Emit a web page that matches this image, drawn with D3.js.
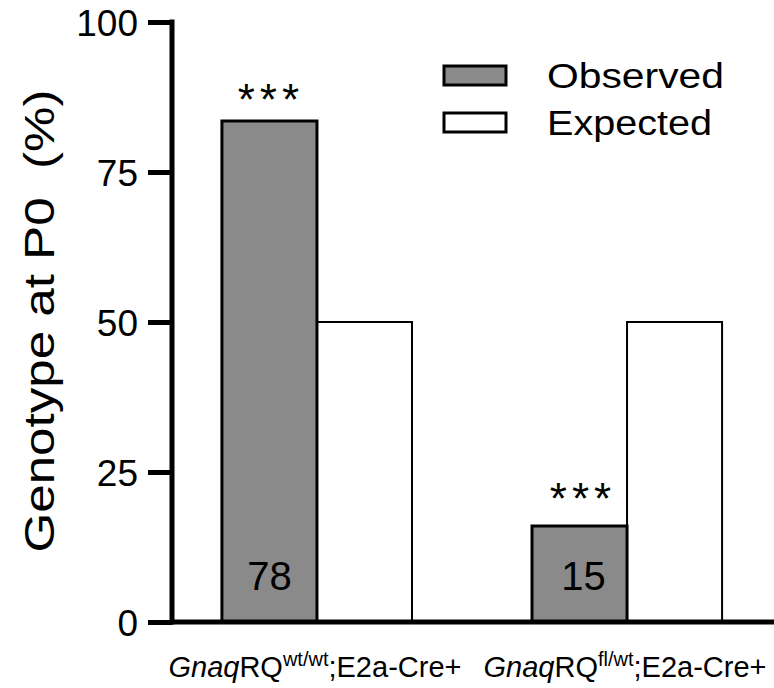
<!DOCTYPE html>
<html><head><meta charset="utf-8">
<script src="https://cdn.jsdelivr.net/npm/d3@7/dist/d3.min.js"></script>
<style>body{margin:0;background:#fff}svg{display:block;font-family:"Liberation Sans",Arial,sans-serif}</style>
</head><body><svg id="c" width="774" height="688"></svg>
<script>
const categories = ["GnaqRQ wt/wt", "GnaqRQ fl/wt"];
const genePrefix = ["Gnaq", "Gnaq"];
const alleleSuper = ["wt/wt", "fl/wt"];
const labelSuffix = [";E2a-Cre+", ";E2a-Cre+"];
const seriesNames = ["Observed", "Expected"];
const observed = [83.5, 16];
const expected = [50, 50];
const counts = [78, 15];
const significance = ["***", "***"];
const yTicks = [0, 25, 50, 75, 100];

const svg = d3.select("#c");
const y = d3.scaleLinear().domain([0, 100]).range([622, 22]);
const x0 = d3.scaleBand().domain(categories).range([172, 772]).paddingInner(0.387).paddingOuter(0.161);
const x1 = d3.scaleBand().domain(seriesNames).range([0, x0.bandwidth()]).padding(0);
const fills = {Observed: "#8a8a8a", Expected: "#ffffff"};
const strokeW = {Observed: 3, Expected: 2};

// bars
const g = svg.append("g");
categories.forEach((c, i) => {
  const vals = {Observed: observed[i], Expected: expected[i]};
  ["Expected", "Observed"].forEach(s => {
    g.append("rect")
      .attr("x", x0(c) + x1(s))
      .attr("y", y(vals[s]))
      .attr("width", x1.bandwidth())
      .attr("height", y(0) - y(vals[s]))
      .attr("fill", fills[s])
      .attr("stroke", "#000")
      .attr("stroke-width", strokeW[s]);
  });
  const cx = x0(c) + x1("Observed") + x1.bandwidth() / 2;
  g.append("text").attr("x", cx + (i === 1 ? 4 : 0)).attr("y", 590)
    .attr("text-anchor", "middle").attr("font-size", 40).text(counts[i]);
  g.append("text").attr("x", cx + 2.5 + (i === 1 ? 1 : -1)).attr("y", y(observed[i]) - (i === 0 ? 6 : 12))
    .attr("text-anchor", "middle").attr("font-size", 44).attr("letter-spacing", 5)
    .text(significance[i]);
});

// y axis
const ya = svg.append("g").attr("transform", "translate(172,0)")
  .call(d3.axisLeft(y).tickValues(yTicks).tickSize(24).tickSizeOuter(0).tickPadding(10));
ya.select(".domain").attr("stroke-width", 5).attr("d", "M0,19.5V624.5");
ya.selectAll(".tick line").attr("stroke-width", 5);
ya.selectAll(".tick text").attr("font-size", 37).attr("font-family", "Liberation Sans, Arial, sans-serif").attr("fill", "#000").attr("dy", "0.36em");

// x axis line
const xa = svg.append("g").attr("transform", "translate(0,622)")
  .call(d3.axisBottom(x0).tickSize(0).tickFormat(""));
xa.select(".domain").attr("stroke-width", 5).attr("d", "M170,0H774");

// x labels
categories.forEach((c, i) => {
  const t = svg.append("text").attr("x", x0(c) + x0.bandwidth() / 2 - 2).attr("y", 677)
    .attr("text-anchor", "middle").attr("font-size", 29);
  t.append("tspan").attr("font-style", "italic").text(genePrefix[i]);
  t.append("tspan").text("RQ");
  t.append("tspan").attr("font-size", 20).attr("dy", -11).text(alleleSuper[i]);
  t.append("tspan").attr("dy", 11).text(labelSuffix[i]);
});

// y title
svg.append("text").attr("transform", "translate(54,321) rotate(-90)")
  .attr("text-anchor", "middle").attr("font-size", 42)
  .attr("textLength", 463).attr("lengthAdjust", "spacingAndGlyphs")
  .text("Genotype at P0\u00a0\u00a0(%)");

// legend
const legY = [66, 113];
const legW = [177, 165];
seriesNames.forEach((s, i) => {
  svg.append("rect").attr("x", 444).attr("y", legY[i]).attr("width", 62).attr("height", 19)
    .attr("fill", fills[s]).attr("stroke", "#000").attr("stroke-width", 3);
  svg.append("text").attr("x", 547).attr("y", legY[i] + 22).attr("font-size", 35)
    .attr("textLength", legW[i]).attr("lengthAdjust", "spacingAndGlyphs").text(s);
});
</script></body></html>
